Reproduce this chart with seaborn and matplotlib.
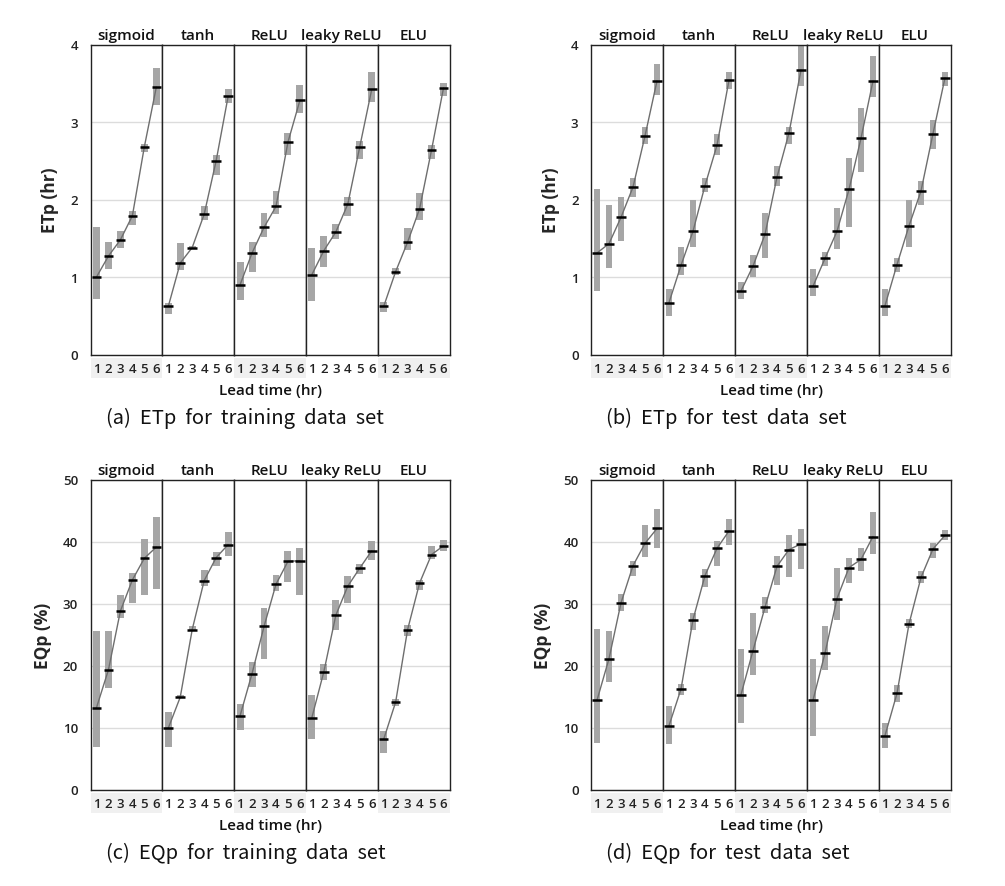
import numpy as np
import pandas as pd
import matplotlib
matplotlib.use("Agg")
import matplotlib.pyplot as plt
from matplotlib.patches import Rectangle
import seaborn as sns

sns.set_theme(style="white")
plt.rcParams['font.family'] = ['Open Sans', 'DejaVu Sans']

ACTIVATIONS = ["sigmoid", "tanh", "ReLU", "leaky ReLU", "ELU"]
LEAD_TIMES = [1, 2, 3, 4, 5, 6]

# (a) ETp, training
ETP_TRAIN_MED = [[1.00, 1.27, 1.48, 1.79, 2.68, 3.45],
                 [0.62, 1.18, 1.38, 1.81, 2.50, 3.33],
                 [0.90, 1.31, 1.64, 1.91, 2.74, 3.28],
                 [1.03, 1.34, 1.58, 1.94, 2.68, 3.42],
                 [0.62, 1.07, 1.45, 1.88, 2.64, 3.44]]
ETP_TRAIN_LO = [[0.71, 1.10, 1.38, 1.67, 2.61, 3.22],
                [0.52, 1.09, 1.36, 1.73, 2.32, 3.25],
                [0.70, 1.06, 1.51, 1.81, 2.57, 3.12],
                [0.69, 1.13, 1.49, 1.79, 2.52, 3.26],
                [0.55, 1.02, 1.35, 1.73, 2.52, 3.34]]
ETP_TRAIN_HI = [[1.64, 1.45, 1.59, 1.85, 2.71, 3.70],
                [0.67, 1.44, 1.40, 1.91, 2.58, 3.42],
                [1.19, 1.45, 1.83, 2.11, 2.86, 3.48],
                [1.38, 1.53, 1.68, 2.03, 2.76, 3.65],
                [0.68, 1.11, 1.63, 2.08, 2.70, 3.50]]

# (b) ETp, test
ETP_TEST_MED = [[1.31, 1.43, 1.77, 2.16, 2.82, 3.53],
                [0.67, 1.15, 1.59, 2.18, 2.70, 3.54],
                [0.82, 1.14, 1.55, 2.29, 2.86, 3.67],
                [0.88, 1.24, 1.59, 2.13, 2.79, 3.53],
                [0.63, 1.16, 1.66, 2.11, 2.85, 3.57]]
ETP_TEST_LO = [[0.82, 1.11, 1.47, 2.03, 2.71, 3.35],
               [0.50, 1.03, 1.39, 2.10, 2.57, 3.43],
               [0.71, 1.00, 1.25, 2.18, 2.71, 3.46],
               [0.75, 1.14, 1.36, 1.64, 2.36, 3.32],
               [0.50, 1.07, 1.39, 1.93, 2.65, 3.46]]
ETP_TEST_HI = [[2.14, 1.93, 2.03, 2.28, 2.93, 3.75],
               [0.85, 1.39, 2.00, 2.28, 2.85, 3.64],
               [0.93, 1.28, 1.82, 2.43, 2.93, 3.99],
               [1.10, 1.32, 1.89, 2.54, 3.18, 3.85],
               [0.85, 1.25, 2.00, 2.24, 3.03, 3.64]]

# (c) EQp, training
EQP_TRAIN_MED = [[13.2, 19.3, 28.8, 33.8, 37.3, 39.1],
                 [9.9, 14.9, 25.8, 33.7, 37.4, 39.5],
                 [11.9, 18.7, 26.3, 33.1, 36.8, 36.9],
                 [11.6, 19.0, 28.1, 32.8, 35.7, 38.5],
                 [8.1, 14.1, 25.8, 33.3, 37.9, 39.3]]
EQP_TRAIN_LO = [[6.8, 16.3, 27.7, 30.1, 31.3, 32.3],
                [6.8, 14.7, 25.5, 32.8, 36.1, 37.6],
                [9.6, 16.6, 21.0, 32.0, 33.5, 31.4],
                [8.1, 17.7, 25.7, 30.1, 34.8, 37.0],
                [5.9, 13.4, 24.8, 32.1, 37.2, 38.4]]
EQP_TRAIN_HI = [[25.6, 25.5, 31.3, 34.9, 40.4, 43.9],
                [12.5, 15.2, 26.3, 35.4, 38.3, 41.6],
                [13.8, 20.6, 29.3, 34.6, 38.4, 38.9],
                [15.2, 20.3, 30.5, 34.5, 36.4, 40.1],
                [9.4, 14.6, 26.6, 33.8, 39.3, 40.3]]

# (d) EQp, test
EQP_TEST_MED = [[14.4, 21.1, 30.1, 36.1, 39.7, 42.1],
                [10.3, 16.2, 27.4, 34.5, 38.9, 41.7],
                [15.3, 22.4, 29.4, 36.0, 38.7, 39.6],
                [14.4, 22.0, 30.8, 35.8, 37.1, 40.8],
                [8.7, 15.5, 26.7, 34.2, 38.8, 41.0]]
EQP_TEST_LO = [[7.5, 17.4, 28.8, 34.5, 37.5, 38.9],
               [7.3, 15.3, 25.8, 32.7, 36.1, 39.5],
               [10.8, 18.5, 28.4, 33.0, 34.2, 35.5],
               [8.6, 19.3, 27.3, 33.3, 35.2, 38.0],
               [6.7, 14.1, 26.0, 33.3, 37.4, 40.3]]
EQP_TEST_HI = [[25.9, 25.5, 31.6, 36.9, 42.6, 45.2],
               [13.4, 17.0, 28.4, 35.6, 40.1, 43.6],
               [22.7, 28.4, 31.0, 37.7, 41.0, 42.0],
               [21.0, 26.3, 35.7, 37.4, 39.0, 44.7],
               [10.8, 16.9, 27.5, 35.3, 39.8, 41.9]]

PANELS = [
    dict(med=ETP_TRAIN_MED, lo=ETP_TRAIN_LO, hi=ETP_TRAIN_HI, ylabel="ETp (hr)",
         yticks=[0, 1, 2, 3, 4], caption="(a)  ETp  for  training  data  set"),
    dict(med=ETP_TEST_MED, lo=ETP_TEST_LO, hi=ETP_TEST_HI, ylabel="ETp (hr)",
         yticks=[0, 1, 2, 3, 4], caption="(b)  ETp  for  test  data  set"),
    dict(med=EQP_TRAIN_MED, lo=EQP_TRAIN_LO, hi=EQP_TRAIN_HI, ylabel="EQp (%)",
         yticks=[0, 10, 20, 30, 40, 50], caption="(c)  EQp  for  training  data  set"),
    dict(med=EQP_TEST_MED, lo=EQP_TEST_LO, hi=EQP_TEST_HI, ylabel="EQp (%)",
         yticks=[0, 10, 20, 30, 40, 50], caption="(d)  EQp  for  test  data  set"),
]

W, H = 1005, 887
fig = plt.figure(figsize=(W / 100, H / 100), dpi=100)
fig.patch.set_facecolor("white")

# panel layout in pixels: (left, top, right, bottom)
BOXES = [(90.5, 45.5, 449.5, 355.5), (591.0, 45.5, 951.0, 355.5),
         (90.5, 480.5, 449.5, 790.5), (591.0, 480.5, 951.0, 790.5)]

BAR_COLOR = "#a6a6a6"
LINE_COLOR = "#6e6e6e"
GRID_COLOR = "#dcdcdc"
CAPTION_FONT = ['Noto Sans CJK KR', 'DejaVu Sans']

for p, box in zip(PANELS, BOXES):
    left, top, right, bottom = box
    fw = (right - left) / len(ACTIVATIONS)
    ph = bottom - top
    rows = []
    for k, act in enumerate(ACTIVATIONS):
        for j, lt in enumerate(LEAD_TIMES):
            rows.append(dict(act=act, lead=lt, med=p["med"][k][j],
                             lo=p["lo"][k][j], hi=p["hi"][k][j]))
    df = pd.DataFrame(rows)
    ymax = p["yticks"][-1]
    for k, act in enumerate(ACTIVATIONS):
        ax = fig.add_axes([(left + k * fw) / W, 1 - bottom / H, fw / W, ph / H])
        sub = df[df["act"] == act]
        ax.set_axisbelow(True)
        ax.bar(sub["lead"], sub["hi"] - sub["lo"], bottom=sub["lo"], width=0.58,
               color=BAR_COLOR, linewidth=0, zorder=1)
        sns.lineplot(data=sub, x="lead", y="med", color=LINE_COLOR, linewidth=1.0,
                     ax=ax, zorder=2)
        ax.hlines(sub["med"], sub["lead"] - 0.4, sub["lead"] + 0.4, color="black",
                  linewidth=1.8, zorder=3)
        ax.set_xlim(0.5, 6.5)
        ax.set_ylim(0, ymax)
        ax.set_yticks(p["yticks"])
        ax.set_xticks(LEAD_TIMES)
        ax.set_xticklabels([str(v) for v in LEAD_TIMES])
        ax.yaxis.grid(True, color=GRID_COLOR, linewidth=1.0)
        ax.xaxis.grid(False)
        ax.tick_params(axis="both", length=0)
        ax.tick_params(axis="x", pad=5.5, labelsize=9.5)
        ax.tick_params(axis="y", pad=9, labelsize=9.5)
        for lab in ax.get_xticklabels() + ax.get_yticklabels():
            lab.set_fontweight("semibold")
            lab.set_color("#222222")
        if k == 0:
            ax.set_ylabel(p["ylabel"], fontsize=12.5, fontweight="bold", labelpad=8)
        else:
            ax.set_yticklabels([])
            ax.set_ylabel("")
        ax.set_xlabel("")
        for sp in ax.spines.values():
            sp.set_visible(True)
            sp.set_color("#222222")
            sp.set_linewidth(1.0)
        ax.set_title(act, fontsize=11, fontweight="semibold", pad=4, color="#111111")
        if k % 2 == 0:
            ax.add_patch(Rectangle((0, -23 / ph), 1, 20 / ph, transform=ax.transAxes,
                                   clip_on=False, facecolor="#f0f0f0", edgecolor="none",
                                   zorder=-5))
    cx = (left + right) / 2
    fig.text(cx / W, 1 - (bottom + 36) / H, "Lead time (hr)", ha="center", va="center",
             fontsize=11, fontweight="semibold", color="#111111")
    fig.text((left + 15) / W, 1 - (bottom + 63) / H, p["caption"], ha="left",
             va="center", fontsize=14.5, color="#111111", family=CAPTION_FONT)

fig.savefig("out.png", dpi=100, facecolor="white")
